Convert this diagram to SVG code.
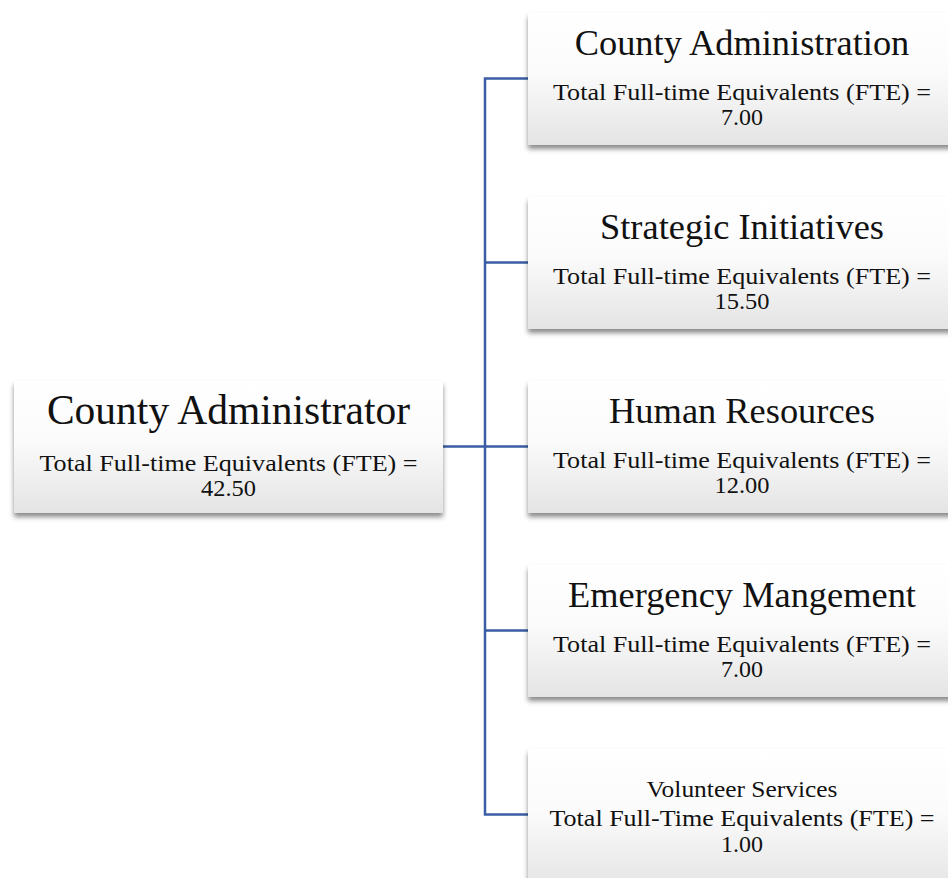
<svg xmlns="http://www.w3.org/2000/svg" width="948" height="878" viewBox="0 0 948 878">
<defs>
<linearGradient id="g" x1="0" y1="0" x2="0" y2="1">
<stop offset="0" stop-color="#ffffff"/>
<stop offset="0.45" stop-color="#fbfbfb"/>
<stop offset="1" stop-color="#e4e4e4"/>
</linearGradient>
<filter id="sh" x="-10%" y="-10%" width="120%" height="130%">
<feDropShadow dx="0" dy="4" stdDeviation="2.5" flood-color="#000" flood-opacity="0.45"/>
</filter>
</defs>
<style>
.box{fill:url(#g);filter:url(#sh)}
.t{font-family:"Liberation Serif","Times New Roman",serif;fill:#111;text-anchor:middle}
.big{font-size:41.5px}
.mid{font-size:36.4px}
.sm{font-size:22.5px}
.c{fill:none;stroke:#3a5da5;stroke-width:2.5}
</style>
<rect width="948" height="878" fill="#fff"/>
<g id="connectors">
<path class="c" d="M443,446.5H528"/>
<path class="c" d="M528,78.5H485V814.5H528"/>
<path class="c" d="M485,262.5H528M485,630.5H528"/>
</g>
<g id="root">
<rect class="box" x="14" y="381" width="429" height="132"/>
<text class="t big" x="228.5" y="424">County Administrator</text>
<text class="t sm" x="228.5" y="471" textLength="378" lengthAdjust="spacingAndGlyphs">Total Full-time Equivalents (FTE) =</text>
<text class="t sm" x="228.5" y="496" textLength="55" lengthAdjust="spacingAndGlyphs">42.50</text>
</g>
<g id="county-administration">
<rect class="box" x="528" y="13" width="428" height="132"/>
<text class="t mid" x="742" y="55">County Administration</text>
<text class="t sm" x="742" y="100" textLength="378" lengthAdjust="spacingAndGlyphs">Total Full-time Equivalents (FTE) =</text>
<text class="t sm" x="742" y="125" textLength="42" lengthAdjust="spacingAndGlyphs">7.00</text>
</g>
<g id="strategic-initiatives">
<rect class="box" x="528" y="197" width="428" height="132"/>
<text class="t mid" x="742" y="239">Strategic Initiatives</text>
<text class="t sm" x="742" y="284" textLength="378" lengthAdjust="spacingAndGlyphs">Total Full-time Equivalents (FTE) =</text>
<text class="t sm" x="742" y="309" textLength="55" lengthAdjust="spacingAndGlyphs">15.50</text>
</g>
<g id="human-resources">
<rect class="box" x="528" y="381" width="428" height="132"/>
<text class="t mid" x="742" y="423">Human Resources</text>
<text class="t sm" x="742" y="468" textLength="378" lengthAdjust="spacingAndGlyphs">Total Full-time Equivalents (FTE) =</text>
<text class="t sm" x="742" y="493" textLength="55" lengthAdjust="spacingAndGlyphs">12.00</text>
</g>
<g id="emergency-management">
<rect class="box" x="528" y="565" width="428" height="132"/>
<text class="t mid" x="742" y="607">Emergency Mangement</text>
<text class="t sm" x="742" y="652" textLength="378" lengthAdjust="spacingAndGlyphs">Total Full-time Equivalents (FTE) =</text>
<text class="t sm" x="742" y="677" textLength="42" lengthAdjust="spacingAndGlyphs">7.00</text>
</g>
<g id="volunteer-services">
<rect class="box" x="528" y="749" width="428" height="140"/>
<text class="t sm" x="742" y="797" textLength="191" lengthAdjust="spacingAndGlyphs">Volunteer Services</text>
<text class="t sm" x="742" y="826" textLength="385" lengthAdjust="spacingAndGlyphs">Total Full-Time Equivalents (FTE) =</text>
<text class="t sm" x="742" y="852" textLength="42" lengthAdjust="spacingAndGlyphs">1.00</text>
</g>
</svg>
